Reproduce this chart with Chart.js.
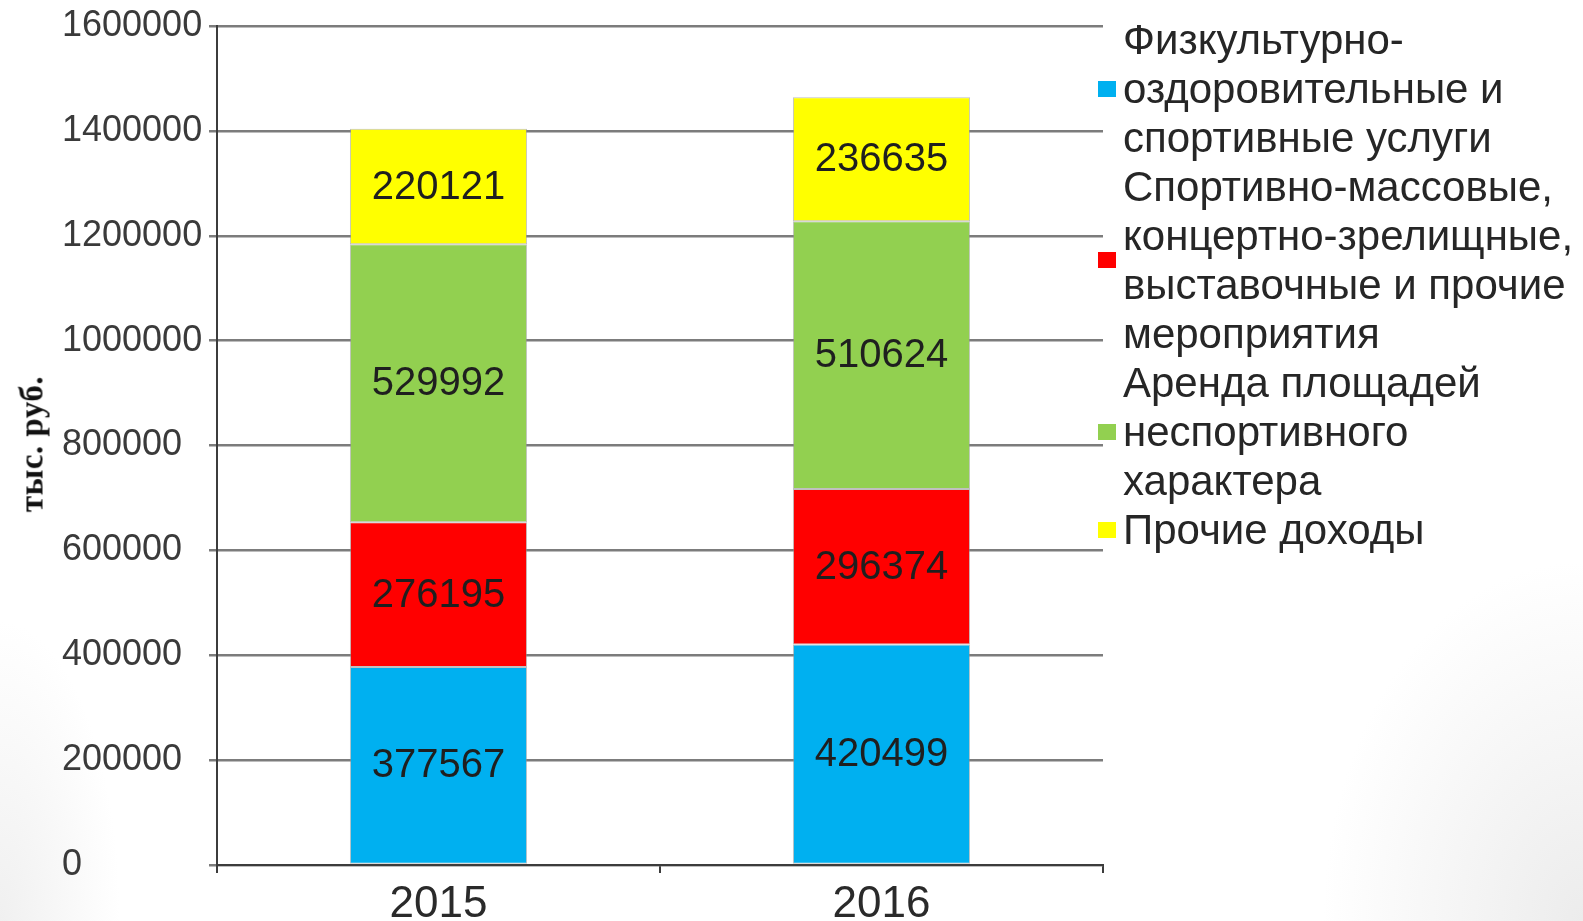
<!DOCTYPE html>
<html lang="ru">
<head>
<meta charset="utf-8">
<title>Доходы, тыс. руб.</title>
<script src="https://cdn.jsdelivr.net/npm/chart.js@4.4.1/dist/chart.umd.min.js"></script>
<style>
  html, body { margin: 0; padding: 0; }
  body {
    width: 1583px;
    height: 921px;
    overflow: hidden;
    position: relative;
    font-family: 'Liberation Sans', Arial, sans-serif;
    background:
      radial-gradient(ellipse 260px 360px at 100% 100%, #ececec 0%, rgba(255,255,255,0) 100%),
      radial-gradient(ellipse 120px 300px at 0% 100%, #f0f0f0 0%, rgba(255,255,255,0) 100%),
      #ffffff;
  }
  #chart { position: absolute; left: 0; top: 0; }
  #yTitle {
    position: absolute;
    left: 32px;
    top: 444px;
    transform: translate(-50%, -50%) rotate(-90deg);
    font: bold 33px 'Liberation Serif', 'Times New Roman', serif;
    letter-spacing: 0.5px;
    white-space: nowrap;
    color: #111;
  }
  #legend { position: absolute; left: 1098px; top: 15px; }
  .item { display: flex; align-items: center; }
  .box { width: 18px; height: 16px; margin-right: 7px; flex: none; }
  .txt { font-size: 42px; line-height: 49px; color: #262626; white-space: nowrap; }
</style>
</head>
<body>
<canvas id="chart" width="1583" height="921"></canvas>
<div id="yTitle">тыс. руб.</div>
<div id="legend"></div>

<script>
const years = ['2015', '2016'];

const fizkultValues = [377567, 420499];
const sportValues = [276195, 296374];
const arendaValues = [529992, 510624];
const prochieValues = [220121, 236635];

const fizkultLabel = ['Физкультурно-', 'оздоровительные и', 'спортивные услуги'];
const sportLabel = ['Спортивно-массовые,', 'концертно-зрелищные,', 'выставочные и прочие', 'мероприятия'];
const arendaLabel = ['Аренда площадей', 'неспортивного', 'характера'];
const prochieLabel = ['Прочие доходы'];

const yTicks = [0, 200000, 400000, 600000, 800000, 1000000, 1200000, 1400000, 1600000];

const colors = ['#00b0f0', '#ff0000', '#92d050', '#ffff00'];

const series = [
  { lines: fizkultLabel, data: fizkultValues },
  { lines: sportLabel, data: sportValues },
  { lines: arendaLabel, data: arendaValues },
  { lines: prochieLabel, data: prochieValues }
];

// подписи значений в центре каждого сегмента
const barLabels = {
  id: 'barLabels',
  afterDatasetsDraw(chart) {
    const ctx = chart.ctx;
    ctx.save();
    ctx.font = '40px "Liberation Sans", Arial, sans-serif';
    ctx.fillStyle = '#1f1f1f';
    ctx.textAlign = 'center';
    ctx.textBaseline = 'middle';
    chart.data.datasets.forEach((ds, i) => {
      chart.getDatasetMeta(i).data.forEach((bar, j) => {
        const { x, y, base } = bar.getProps(['x', 'y', 'base'], true);
        ctx.fillText(String(ds.data[j]), x, (y + base) / 2 + 1);
      });
    });
    ctx.restore();
  }
};

const datasets = series.map((s, i) => ({
  label: s.lines.join(' '),
  data: s.data,
  backgroundColor: colors[i],
  borderColor: 'rgba(150,150,150,0.6)',
  borderWidth: 1,
  borderSkipped: false,
  categoryPercentage: 1,
  barPercentage: 0.4
}));

new Chart(document.getElementById('chart'), {
  type: 'bar',
  data: { labels: years, datasets },
  options: {
    responsive: false,
    animation: false,
    layout: { padding: { top: 26, left: 62, right: 480, bottom: 0 } },
    plugins: {
      legend: { display: false },
      tooltip: { enabled: false }
    },
    scales: {
      x: {
        stacked: true,
        grid: {
          display: true,
          drawOnChartArea: false,
          offset: true,
          tickLength: 8,
          color: '#3c3c3c',
          lineWidth: 2
        },
        border: { color: '#3c3c3c', width: 2 },
        ticks: {
          padding: 5,
          color: '#2a2a2a',
          font: { family: '"Liberation Sans", Arial, sans-serif', size: 44 }
        },
        afterFit(scale) { scale.height = 56; }
      },
      y: {
        stacked: true,
        min: 0,
        max: 1600000,
        afterBuildTicks(scale) { scale.ticks = yTicks.map((v) => ({ value: v })); },
        ticks: {
          crossAlign: 'far',
          color: '#3a3a3a',
          font: { family: '"Liberation Sans", Arial, sans-serif', size: 36 },
          callback: (value) => String(value)
        },
        grid: { color: '#7c7c7c', lineWidth: 2.5, tickLength: 8 },
        border: { color: '#3c3c3c', width: 2 },
        afterFit(scale) { scale.width = 155; }
      }
    }
  },
  plugins: [barLabels]
});

// легенда с переносом строк, как в исходнике
const legend = document.getElementById('legend');
legend.innerHTML = series.map((s, i) => `
  <div class="item">
    <span class="box" style="background:${colors[i]}"></span>
    <span class="txt">${s.lines.join('<br>')}</span>
  </div>
`).join('');
</script>
</body>
</html>
